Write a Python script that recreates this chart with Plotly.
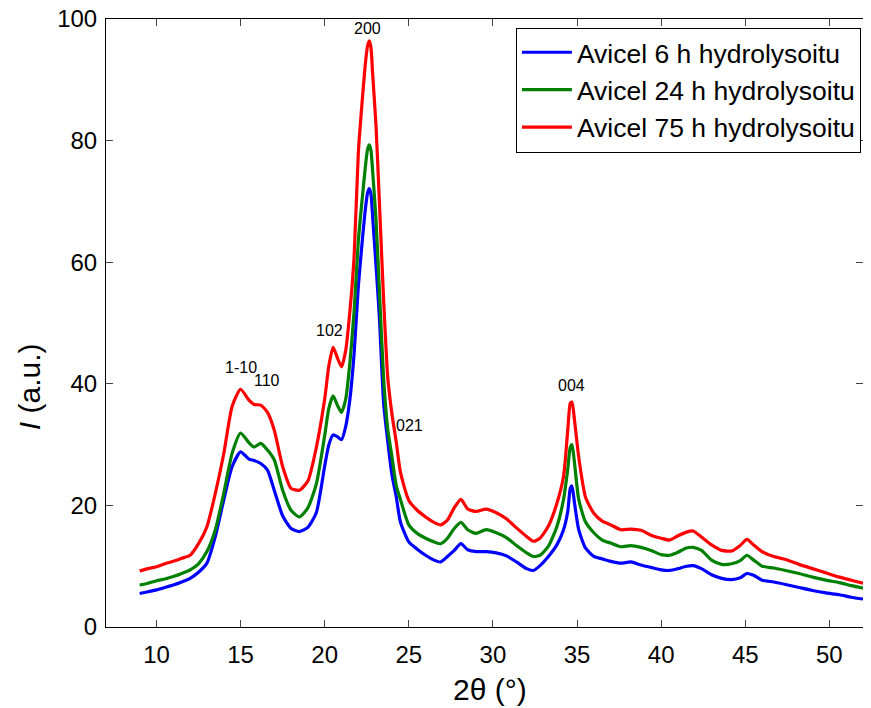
import plotly.graph_objects as go

two_theta = [9.0, 9.5, 10.0, 10.5, 11.0, 11.5, 12.0, 12.5, 13.0, 13.5, 14.0, 14.5, 15.0, 15.5, 15.8, 16.2,
             16.6, 17.0, 17.5, 18.0, 18.5, 19.0, 19.5, 20.0, 20.25, 20.5, 20.75, 21.0, 21.25, 21.5, 21.75,
             22.0, 22.25, 22.45, 22.55, 22.65, 22.75, 22.85, 23.05, 23.25, 23.5, 23.75, 24.0, 24.25, 24.5,
             25.0, 25.5, 26.0, 26.5, 26.9, 27.3, 27.7, 28.1, 28.5, 29.0, 29.6, 30.2, 30.8, 31.4, 32.0,
             32.4, 32.8, 33.3, 33.8, 34.2, 34.45, 34.6, 34.7, 34.85, 35.1, 35.5, 36.0, 36.5, 37.0, 37.6,
             38.2, 38.8, 39.4, 40.0, 40.5, 41.0, 41.5, 41.9, 42.4, 43.0, 43.6, 44.2, 44.7, 45.1, 45.5,
             46.0, 46.7, 47.4, 48.2, 49.0, 49.8, 50.6, 51.3, 52.0]

avicel_6h = [5.5, 5.8, 6.1, 6.5, 6.9, 7.4, 8.0, 9.0, 10.5, 14.9, 20.9, 26.4, 28.8, 27.6, 27.4, 26.9,
             25.8, 22.5, 18.3, 16.2, 15.7, 16.4, 18.8, 26.5, 30.0, 31.6, 31.3, 30.8, 33.0, 37.5, 45.0,
             56.0, 64.0, 69.5, 71.4, 72.1, 71.2, 67.5, 59.5, 51.0, 37.0, 30.5, 25.0, 21.5, 17.3,
             14.0, 12.8, 11.8, 11.0, 10.7, 11.6, 12.6, 13.7, 12.7, 12.4, 12.4, 12.2, 11.7, 10.7, 9.6,
             9.3, 10.1, 11.6, 13.5, 16.0, 19.0, 22.8, 23.2, 20.4, 16.0, 13.0, 11.6, 11.2, 10.8, 10.5,
             10.7, 10.2, 9.8, 9.4, 9.3, 9.6, 10.0, 10.1, 9.6, 8.6, 8.0, 7.8, 8.1, 8.8, 8.5,
             7.7, 7.4, 7.0, 6.5, 6.0, 5.6, 5.3, 4.9, 4.6]

avicel_24h = [6.9, 7.2, 7.6, 7.9, 8.3, 8.8, 9.4, 10.4, 12.4, 16.0, 22.0, 28.6, 31.9, 30.3, 29.6, 30.2,
              29.1, 27.5, 22.5, 19.2, 18.1, 19.6, 23.5, 31.5, 36.0, 38.0, 36.5, 35.3, 37.5, 43.5, 52.0,
              63.5, 71.0, 76.5, 78.6, 79.3, 78.4, 75.0, 67.0, 55.5, 41.0, 32.5, 28.0, 23.3, 21.0,
              16.8, 15.4, 14.6, 14.0, 13.7, 14.6, 16.2, 17.2, 16.0, 15.4, 16.0, 15.5, 14.7, 13.4, 12.2,
              11.6, 11.8, 13.3, 16.5, 21.0, 26.0, 29.6, 30.0, 27.0, 21.0, 17.3, 15.5, 14.3, 13.8, 13.2,
              13.4, 13.1, 12.6, 11.9, 11.8, 12.3, 13.0, 13.1, 12.6, 11.0, 10.3, 10.4, 10.9, 11.8, 11.0,
              10.0, 9.7, 9.3, 8.8, 8.2, 7.7, 7.3, 6.8, 6.4]

avicel_75h = [9.2, 9.6, 9.9, 10.4, 10.8, 11.3, 11.8, 13.7, 16.5, 22.0, 28.5, 36.3, 39.1, 37.3, 36.6, 36.5,
              35.3, 32.4, 26.4, 22.8, 22.5, 24.0, 29.5, 37.5, 43.0, 46.0, 44.3, 42.8, 45.5, 52.0, 61.0,
              78.0, 87.2, 93.5, 95.6, 96.4, 95.3, 91.0, 82.5, 70.0, 54.0, 41.0, 35.0, 30.5, 25.5,
              20.8, 19.2, 18.1, 17.2, 16.8, 17.6, 19.6, 21.0, 19.4, 19.0, 19.4, 18.8, 17.8, 16.3, 14.9,
              14.1, 14.6, 16.6, 20.3, 24.8, 32.4, 36.8, 37.0, 34.0, 28.0, 21.4, 18.7, 17.4, 16.8, 16.0,
              16.1, 15.9, 15.1, 14.6, 14.3, 15.0, 15.6, 15.8, 14.8, 13.5, 12.6, 12.5, 13.4, 14.4, 13.5,
              12.4, 11.6, 11.1, 10.3, 9.6, 8.9, 8.2, 7.7, 7.2]

series_names = ["Avicel 6 h hydrolysoitu", "Avicel 24 h hydrolysoitu", "Avicel 75 h hydrolysoitu"]
series_colors = ["#0000FF", "#008000", "#FF0000"]

peak_labels = ["1-10", "110", "102", "200", "021", "004"]
peak_x = [15.0, 16.55, 20.27, 22.57, 25.07, 34.65]
peak_y = [42.6, 40.5, 48.8, 98.5, 33.1, 39.7]

x_ticks = [10, 15, 20, 25, 30, 35, 40, 45, 50]
y_ticks = [0, 20, 40, 60, 80, 100]

FONT = "Liberation Sans, Arial, sans-serif"

fig = go.Figure()
for name, ys, col in zip(series_names, [avicel_6h, avicel_24h, avicel_75h], series_colors):
    fig.add_trace(go.Scatter(x=two_theta, y=ys, mode="lines", name=name,
                             line=dict(color=col, width=3.2, shape="spline", smoothing=0.6)))

for lab, px, py in zip(peak_labels, peak_x, peak_y):
    fig.add_annotation(x=px, y=py, text=lab, showarrow=False,
                       font=dict(size=16, color="black", family=FONT))

# axis titles placed as paper annotations
fig.add_annotation(xref="paper", yref="paper", x=0.5076, y=-0.1036, text="2θ (°)",
                   showarrow=False, xanchor="center", yanchor="middle",
                   font=dict(size=30, color="black", family=FONT))
fig.add_annotation(xref="paper", yref="paper", x=-0.1, y=0.395, text="<i>I</i> (a.u.)",
                   showarrow=False, xanchor="center", yanchor="middle", textangle=-90,
                   font=dict(size=30, color="black", family=FONT))

axis_common = dict(showgrid=False, zeroline=False, showline=True, linecolor="black", linewidth=1,
                   mirror="ticks", ticks="inside", ticklen=7, tickcolor="#444444",
                   tickfont=dict(size=24, color="black", family=FONT), automargin=False,
                   ticklabeloverflow="allow")

fig.update_xaxes(range=[7, 52], tickvals=x_ticks, ticklabelstandoff=6, **axis_common)
fig.update_yaxes(range=[0, 100], tickvals=y_ticks, ticklabelstandoff=3, **axis_common)

# the page body adds an 8 px offset, so the figure is drawn 8 px smaller with shifted margins
fig.update_layout(
    width=863, height=700,
    margin=dict(l=97.5, r=8, t=11, b=81),
    paper_bgcolor="white", plot_bgcolor="white",
    font=dict(family=FONT, color="black"),
    showlegend=True,
    legend=dict(x=0.5415, y=0.986, xanchor="left", yanchor="top",
                bgcolor="white", bordercolor="black", borderwidth=1,
                font=dict(size=26.5, color="black", family=FONT), itemwidth=50, tracegroupgap=0),
)

fig.write_html("out.html")
